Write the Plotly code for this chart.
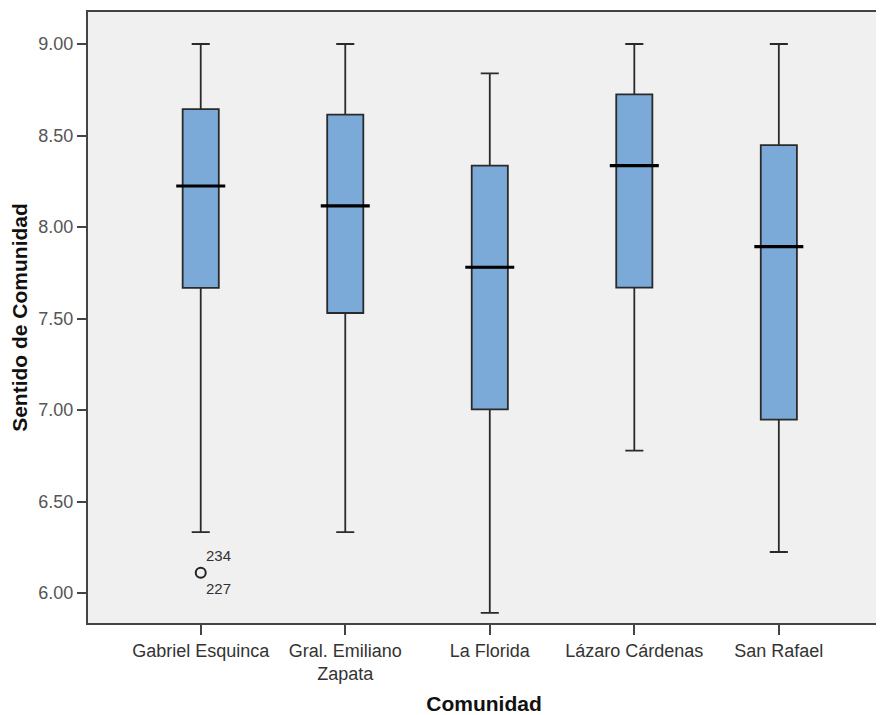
import plotly.graph_objects as go

categories = ["Gabriel Esquinca", "Gral. Emiliano Zapata", "La Florida", "Lázaro Cárdenas", "San Rafael"]
tick_labels = ["Gabriel Esquinca", "Gral. Emiliano<br>Zapata", "La Florida", "Lázaro Cárdenas", "San Rafael"]
upper_whisker = [9.00, 9.00, 8.84, 9.00, 9.00]
q3 = [8.644, 8.614, 8.335, 8.725, 8.447]
median = [8.224, 8.115, 7.780, 8.336, 7.893]
q1 = [7.667, 7.530, 7.003, 7.669, 6.947]
lower_whisker = [6.333, 6.333, 5.891, 6.778, 6.224]

outlier_cat = ["Gabriel Esquinca"]
outlier_val = [6.11]
outlier_ids_upper = ["234"]
outlier_ids_lower = ["227"]

y_ticks = [6.0, 6.5, 7.0, 7.5, 8.0, 8.5, 9.0]

box_fill = "#7BA9D8"
dark = "#222222"
font = "Liberation Sans, Arial, sans-serif"

fig = go.Figure()
fig.add_trace(go.Box(
    x=categories, q1=q1, median=median, q3=q3,
    lowerfence=lower_whisker, upperfence=upper_whisker,
    fillcolor=box_fill, line=dict(color="#2a2a2a", width=1.8),
    whiskerwidth=0.5, width=0.25, boxpoints=False, showlegend=False,
    hoverinfo="skip",
))
# thick black median lines
fig.add_trace(go.Scatter(
    x=categories, y=median, mode="markers",
    marker=dict(symbol="line-ew", size=35, line=dict(color="black", width=3.2)),
    showlegend=False, hoverinfo="skip",
))
# outlier
fig.add_trace(go.Scatter(
    x=outlier_cat, y=outlier_val, mode="markers",
    marker=dict(symbol="circle-open", size=10, line=dict(color=dark, width=2), color=dark),
    showlegend=False, hoverinfo="skip",
))
for c, v, up, lo in zip(outlier_cat, outlier_val, outlier_ids_upper, outlier_ids_lower):
    fig.add_annotation(x=c, y=v, text=up, showarrow=False, xanchor="left", yanchor="bottom",
                       xshift=3, yshift=7, font=dict(family=font, size=15, color="#333333"))
    fig.add_annotation(x=c, y=v, text=lo, showarrow=False, xanchor="left", yanchor="top",
                       xshift=3, yshift=-5, font=dict(family=font, size=15, color="#333333"))

fig.update_layout(
    width=876, height=707,
    margin=dict(l=80, r=2, t=3, b=92),
    paper_bgcolor="white", plot_bgcolor="#F0F0F0",
    font=dict(family=font, color="#333333"),
)
fig.update_xaxes(
    type="category", range=[-0.78, 4.70],
    tickmode="array", tickvals=categories, ticktext=tick_labels,
    tickfont=dict(family=font, size=18, color="#333333"),
    ticks="outside", ticklen=10, tickwidth=2, tickcolor="#444444",
    showline=True, linecolor="#444444", linewidth=2, mirror=True,
    showgrid=False, zeroline=False,
    title=dict(text="<b>Comunidad</b>", font=dict(family=font, size=21, color="#111111"), standoff=14),
)
fig.update_yaxes(
    range=[5.836, 9.175],
    tickmode="array", tickvals=y_ticks, ticktext=[f"{t:.2f}" for t in y_ticks],
    tickfont=dict(family=font, size=18, color="#555555"),
    ticks="outside", ticklen=9, tickwidth=2, tickcolor="#444444",
    showline=True, linecolor="#444444", linewidth=2, mirror=True,
    showgrid=False, zeroline=False,
    title=dict(text="<b>Sentido de Comunidad</b>", font=dict(family=font, size=21, color="#111111"), standoff=6),
)
fig.write_html("out.html")
